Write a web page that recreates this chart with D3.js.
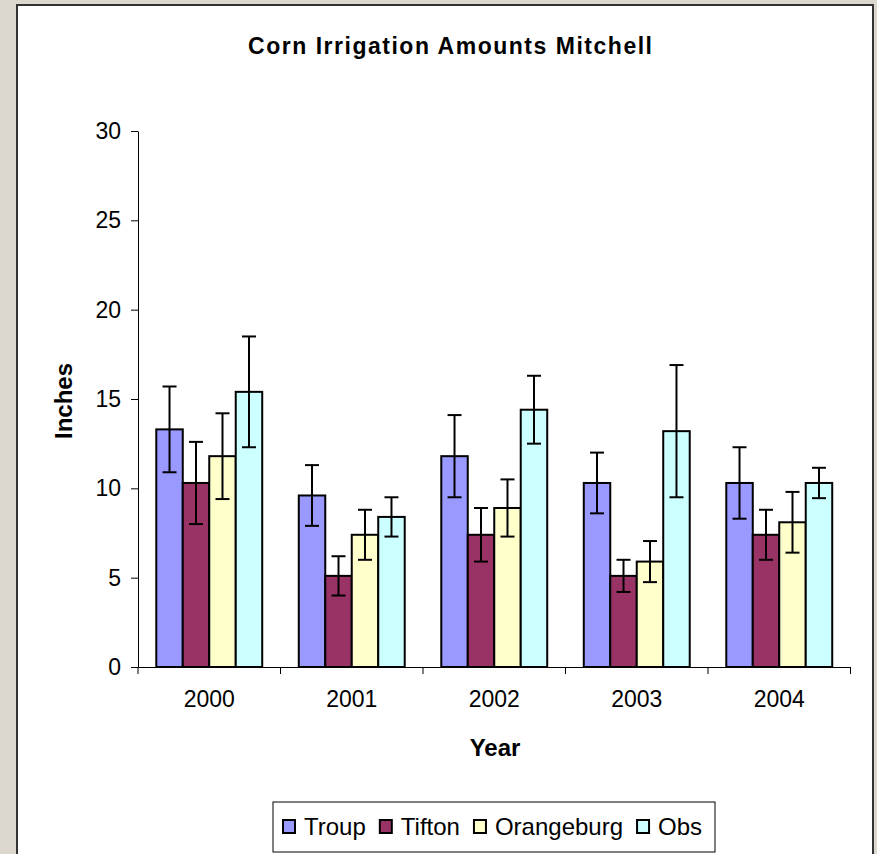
<!DOCTYPE html>
<html>
<head>
<meta charset="utf-8">
<script src="https://cdn.jsdelivr.net/npm/d3@7"></script>
<style>
  body { margin: 0; background: #dcd8cd; }
  svg { display: block; font-family: "Liberation Sans", Arial, sans-serif; }
</style>
</head>
<body>
<svg id="chart"></svg>
<script>
// chart data
const years = ['2000', '2001', '2002', '2003', '2004'];
const seriesNames = ['Troup', 'Tifton', 'Orangeburg', 'Obs'];
const seriesColors = ['#9999ff', '#993366', '#ffffcc', '#ccffff'];

const troup = [13.3, 9.6, 11.8, 10.3, 10.3];
const tifton = [10.3, 5.1, 7.4, 5.1, 7.4];
const orangeburg = [11.8, 7.4, 8.9, 5.9, 8.1];
const obs = [15.4, 8.4, 14.4, 13.2, 10.3];

// +/- error bar half widths
const troupErr = [2.4, 1.7, 2.3, 1.7, 2.0];
const tiftonErr = [2.3, 1.1, 1.5, 0.9, 1.4];
const orangeburgErr = [2.4, 1.4, 1.6, 1.15, 1.7];
const obsErr = [3.1, 1.1, 1.9, 3.7, 0.85];

const yTicks = [0, 5, 10, 15, 20, 25, 30];

const allValues = [troup, tifton, orangeburg, obs];
const allErrors = [troupErr, tiftonErr, orangeburgErr, obsErr];

const width = 877, height = 854;
const margin = {top: 131, left: 138, right: 26.5, bottom: 187};

const svg = d3.select('#chart')
    .attr('width', width)
    .attr('height', height);

// white chart area with dark frame
svg.append('rect')
    .attr('x', 17).attr('y', 5)
    .attr('width', 856).attr('height', 870)
    .attr('fill', '#fff')
    .attr('stroke', '#333')
    .attr('stroke-width', 2);

const innerW = width - margin.left - margin.right;
const innerH = height - margin.top - margin.bottom;

const x = d3.scaleBand()
    .domain(years)
    .range([0, innerW])
    .padding(0);

const xSub = d3.scaleBand()
    .domain(seriesNames)
    .range([0, x.bandwidth()])
    .paddingInner(0)
    .paddingOuter(0.69);

const y = d3.scaleLinear()
    .domain([0, 30])
    .range([innerH, 0]);

const chart = svg.append('g')
    .attr('transform', `translate(${margin.left},${margin.top})`);

// flatten for the bars
const rows = [];
years.forEach((yr, i) => {
  seriesNames.forEach((s, j) => {
    rows.push({year: yr, series: s, value: allValues[j][i], err: allErrors[j][i], color: seriesColors[j]});
  });
});

chart.selectAll('.bar')
    .data(rows)
  .join('rect')
    .attr('class', 'bar')
    .attr('x', d => x(d.year) + xSub(d.series))
    .attr('width', xSub.bandwidth())
    .attr('y', d => y(d.value))
    .attr('height', d => innerH - y(d.value))
    .attr('fill', d => d.color)
    .attr('stroke', '#000')
    .attr('stroke-width', 2);

// error bars
const capW = 7;
const cx = d => x(d.year) + xSub(d.series) + xSub.bandwidth() / 2;
const eb = chart.selectAll('.err')
    .data(rows)
  .join('g')
    .attr('class', 'err')
    .attr('stroke', '#000')
    .attr('stroke-width', 2);

eb.append('line')
    .attr('x1', cx)
    .attr('x2', cx)
    .attr('y1', d => y(d.value + d.err))
    .attr('y2', d => y(d.value - d.err));
eb.append('line')
    .attr('x1', d => cx(d) - capW)
    .attr('x2', d => cx(d) + capW)
    .attr('y1', d => y(d.value + d.err))
    .attr('y2', d => y(d.value + d.err));
eb.append('line')
    .attr('x1', d => cx(d) - capW)
    .attr('x2', d => cx(d) + capW)
    .attr('y1', d => y(d.value - d.err))
    .attr('y2', d => y(d.value - d.err));

// y axis
const yAxis = d3.axisLeft(y)
    .tickValues(yTicks)
    .tickSize(7)
    .tickSizeOuter(0)
    .tickPadding(10);

const yAxisG = chart.append('g').call(yAxis);
yAxisG.select('.domain').attr('stroke', '#000').attr('stroke-width', 1);
yAxisG.selectAll('.tick line').attr('stroke', '#000');
yAxisG.selectAll('text')
    .attr('font-size', 23)
    .attr('fill', '#000')
    .attr('font-family', '"Liberation Sans", Arial, sans-serif');

// x axis: labels at band centres, ticks at band edges
const xAxis = d3.axisBottom(x)
    .tickSize(0)
    .tickSizeOuter(0)
    .tickPadding(24);

const xAxisG = chart.append('g')
    .attr('transform', `translate(0,${innerH})`)
    .call(xAxis);
xAxisG.select('.domain').attr('stroke', '#000').attr('stroke-width', 1);
xAxisG.selectAll('text')
    .attr('font-size', 23)
    .attr('fill', '#000')
    .attr('font-family', '"Liberation Sans", Arial, sans-serif');

xAxisG.selectAll('.edge')
    .data(years.concat(['end']))
  .join('line')
    .attr('class', 'edge')
    .attr('x1', d => d === 'end' ? innerW : x(d))
    .attr('x2', d => d === 'end' ? innerW : x(d))
    .attr('y1', 0)
    .attr('y2', 7)
    .attr('stroke', '#000');

// titles
svg.append('text')
    .attr('x', 450)
    .attr('y', 54)
    .attr('text-anchor', 'middle')
    .attr('font-size', 23)
    .attr('font-weight', 'bold')
    .attr('textLength', 404)
    .text('Corn Irrigation Amounts Mitchell');

svg.append('text')
    .attr('x', 495)
    .attr('y', 756)
    .attr('text-anchor', 'middle')
    .attr('font-size', 24)
    .attr('font-weight', 'bold')
    .text('Year');

svg.append('text')
    .attr('transform', 'translate(72,401) rotate(-90)')
    .attr('text-anchor', 'middle')
    .attr('font-size', 24)
    .attr('font-weight', 'bold')
    .text('Inches');

// legend
const legend = svg.append('g').attr('transform', 'translate(273,802)');
legend.append('rect')
    .attr('width', 442).attr('height', 50)
    .attr('fill', '#fff')
    .attr('stroke', '#000')
    .attr('stroke-width', 1);

let lx = 10;
seriesNames.forEach((s, j) => {
  legend.append('rect')
      .attr('x', lx).attr('y', 18)
      .attr('width', 12).attr('height', 13)
      .attr('fill', seriesColors[j])
      .attr('stroke', '#000')
      .attr('stroke-width', 2);
  const t = legend.append('text')
      .attr('x', lx + 21)
      .attr('y', 33)
      .attr('font-size', 24)
      .text(s);
  lx += 21 + t.node().getComputedTextLength() + 14;
});
</script>
</body>
</html>
